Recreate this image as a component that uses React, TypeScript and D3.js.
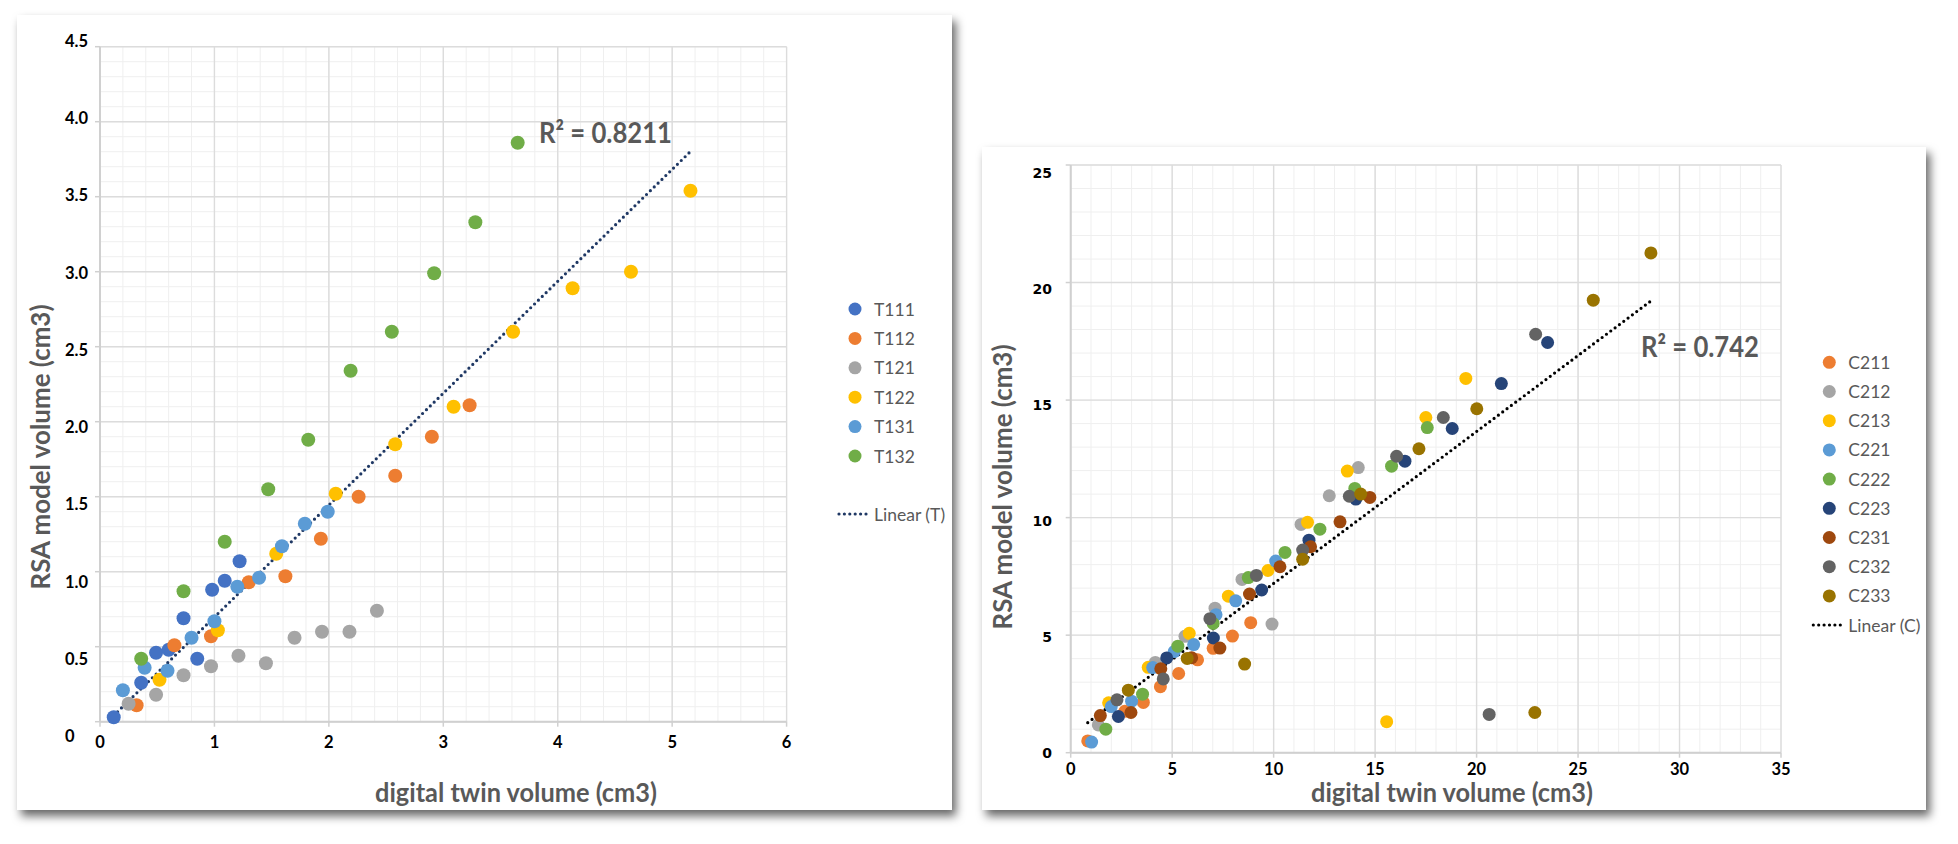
import React from "react";
import * as d3 from "d3";

type Pt = [number, number];

// ---------- Chart T data ----------
const T111: Pt[] = [[0.12,0.03],[0.36,0.26],[0.49,0.46],[0.6,0.48],[0.73,0.69],[0.85,0.42],[0.98,0.88],[1.09,0.94],[1.22,1.07]];
const T112: Pt[] = [[0.32,0.11],[0.65,0.51],[0.97,0.57],[1.3,0.93],[1.62,0.97],[1.93,1.22],[2.26,1.5],[2.58,1.64],[2.9,1.9],[3.23,2.11]];
const T121: Pt[] = [[0.25,0.12],[0.49,0.18],[0.73,0.31],[0.97,0.37],[1.21,0.44],[1.45,0.39],[1.7,0.56],[1.94,0.6],[2.18,0.6],[2.42,0.74]];
const T122: Pt[] = [[0.52,0.28],[1.03,0.61],[1.54,1.12],[2.06,1.52],[2.58,1.85],[3.09,2.1],[3.61,2.6],[4.13,2.89],[4.64,3.0],[5.16,3.54]];
const T131: Pt[] = [[0.2,0.21],[0.39,0.36],[0.59,0.34],[0.8,0.56],[1.0,0.67],[1.2,0.9],[1.39,0.96],[1.59,1.17],[1.79,1.32],[1.99,1.4]];
const T132: Pt[] = [[0.36,0.42],[0.73,0.87],[1.09,1.2],[1.47,1.55],[1.82,1.88],[2.19,2.34],[2.55,2.6],[2.92,2.99],[3.28,3.33],[3.65,3.86]];
const tNames = ["T111", "T112", "T121", "T122", "T131", "T132"];
const tColors = ["#4472C4", "#ED7D31", "#A5A5A5", "#FFC000", "#5B9BD5", "#70AD47"];
const tSeries = [T111, T112, T121, T122, T131, T132];
const tXTicks = [0, 1, 2, 3, 4, 5, 6];
const tYTicks = [0, 0.5, 1, 1.5, 2, 2.5, 3, 3.5, 4, 4.5];
const tYTickLabels = ["0", "0.5", "1.0", "1.5", "2.0", "2.5", "3.0", "3.5", "4.0", "4.5"];
const tR2 = "R² = 0.8211";
const tTrendName = "Linear (T)";

// ---------- Chart C data ----------
const C211: Pt[] = [[0.84,0.5],[2.67,1.76],[3.58,2.14],[4.42,2.81],[5.32,3.37],[6.25,3.95],[7.02,4.44],[7.97,4.96],[8.87,5.53]];
const C212: Pt[] = [[1.36,1.18],[4.17,3.84],[5.63,4.95],[7.11,6.15],[8.44,7.37],[9.92,5.47],[11.35,9.71],[12.74,10.93],[14.17,12.13]];
const C213: Pt[] = [[1.87,2.12],[3.82,3.63],[5.84,5.08],[7.77,6.66],[9.72,7.75],[11.67,9.8],[13.63,11.98],[15.57,1.32],[17.5,14.26],[19.47,15.92]];
const C221: Pt[] = [[1.03,0.45],[2.0,1.96],[3.0,2.19],[4.04,3.62],[5.1,4.3],[6.06,4.6],[7.16,5.87],[8.13,6.46],[10.1,8.15]];
const C222: Pt[] = [[1.73,1.0],[3.54,2.49],[5.28,4.53],[7.02,5.5],[8.75,7.45],[10.56,8.52],[12.28,9.51],[14.0,11.24],[15.81,12.19],[17.57,13.83]];
const C223: Pt[] = [[2.35,1.54],[4.73,4.03],[7.03,4.88],[9.41,6.92],[11.74,9.04],[14.05,10.79],[16.47,12.4],[18.8,13.79],[21.22,15.7],[23.5,17.45]];
const C231: Pt[] = [[1.46,1.58],[2.97,1.71],[4.44,3.57],[5.96,4.04],[7.35,4.45],[8.81,6.75],[10.31,7.91],[11.82,8.76],[13.27,9.82],[14.74,10.86]];
const C232: Pt[] = [[2.28,2.25],[4.56,3.14],[6.86,5.7],[9.15,7.54],[11.43,8.62],[13.73,10.91],[16.06,12.61],[18.36,14.26],[20.62,1.63],[22.91,17.8]];
const C233: Pt[] = [[2.84,2.66],[5.74,4.01],[8.57,3.77],[11.43,8.23],[14.29,11.0],[17.16,12.93],[20.01,14.63],[22.87,1.71],[25.75,19.25],[28.59,21.26]];
const cNames = ["C211", "C212", "C213", "C221", "C222", "C223", "C231", "C232", "C233"];
const cColors = ["#ED7D31", "#A5A5A5", "#FFC000", "#5B9BD5", "#70AD47", "#264478", "#9E480E", "#636363", "#997300"];
const cSeries = [C211, C212, C213, C221, C222, C223, C231, C232, C233];
const cXTicks = [0, 5, 10, 15, 20, 25, 30, 35];
const cYTicks = [0, 5, 10, 15, 20, 25];
const cYTickLabels = ["0", "5", "10", "15", "20", "25"];
const cR2 = "R² = 0.742";
const cTrendName = "Linear (C)";

const xTitle = "digital twin volume (cm3)";
const yTitle = "RSA model volume (cm3)";

function linReg(pts: Pt[]) {
  const mx = d3.mean(pts, (p) => p[0]) as number;
  const my = d3.mean(pts, (p) => p[1]) as number;
  let sxy = 0, sxx = 0;
  for (const p of pts) { sxy += (p[0] - mx) * (p[1] - my); sxx += (p[0] - mx) ** 2; }
  const slope = sxy / sxx;
  return { slope, intercept: my - slope * mx };
}

interface Cfg {
  id: string;
  panel: { x: number; y: number; w: number; h: number };
  plot: { l: number; r: number; t: number; b: number };
  xMax: number; yMax: number; xMinor: number; yMinor: number;
  xTicks: number[]; yTicks: number[]; yTickLabels: string[];
  yLabelRange: [number, number]; yLabelX: number; yLabelAnchor: string; yLabelFont: string; yLabelSize: number;
  xLabelY: number; xLabelSize: number;
  series: Pt[][]; names: string[]; colors: string[]; r: number;
  trendColor: string; trendName: string;
  r2: string; r2x: number; r2y: number; r2w: number;
  legX: number; legY: number; legStep: number; linearY: number;
  xTitleX: number; xTitleY: number; yTitleX: number; yTitleY: number;
}

const FONT = "Lato, 'Open Sans', sans-serif";
const DOT = { w: 3.2, dash: "0 5.4" };

function Chart({ c }: { c: Cfg }) {
  const x = d3.scaleLinear().domain([0, c.xMax]).range([c.plot.l, c.plot.r]);
  const y = d3.scaleLinear().domain([0, c.yMax]).range([c.plot.b, c.plot.t]);
  const yLab = d3.scaleLinear().domain([0, c.yMax]).range(c.yLabelRange);
  const minorX = d3.range(0, c.xMax + 1e-9, c.xMinor);
  const minorY = d3.range(0, c.yMax + 1e-9, c.yMinor);
  const all = c.series.flat();
  const reg = linReg(all);
  const [xmin, xmax] = d3.extent(all, (p) => p[0]) as [number, number];
  const line = d3.line<number>().x((v) => x(v)).y((v) => y(reg.slope * v + reg.intercept));
  return (
    <g>
      <rect x={c.panel.x} y={c.panel.y} width={c.panel.w} height={c.panel.h} fill="#fff" filter="url(#shadow)" />
      {minorX.map((v, i) => (
        <line key={"mx" + i} x1={x(v)} x2={x(v)} y1={c.plot.t} y2={c.plot.b} stroke="#efefef" strokeWidth={1} />
      ))}
      {minorY.map((v, i) => (
        <line key={"my" + i} x1={c.plot.l} x2={c.plot.r} y1={y(v)} y2={y(v)} stroke="#efefef" strokeWidth={1} />
      ))}
      {c.xTicks.map((v) => (
        <line key={"gx" + v} x1={x(v)} x2={x(v)} y1={c.plot.t} y2={c.plot.b} stroke="#dcdcdc" strokeWidth={1.4} />
      ))}
      {c.yTicks.map((v) => (
        <line key={"gy" + v} x1={c.plot.l} x2={c.plot.r} y1={y(v)} y2={y(v)} stroke="#dcdcdc" strokeWidth={1.4} />
      ))}
      <line x1={c.plot.l} x2={c.plot.r} y1={c.plot.b} y2={c.plot.b} stroke="#d0d0d0" strokeWidth={2} />
      <line x1={c.plot.l} x2={c.plot.l} y1={c.plot.t} y2={c.plot.b} stroke="#d0d0d0" strokeWidth={2} />
      {c.xTicks.map((v) => (
        <line key={"tx" + v} x1={x(v)} x2={x(v)} y1={c.plot.b} y2={c.plot.b + 5} stroke="#d0d0d0" strokeWidth={1.5} />
      ))}
      {c.yTicks.map((v) => (
        <line key={"ty" + v} x1={c.plot.l - 5} x2={c.plot.l} y1={y(v)} y2={y(v)} stroke="#d0d0d0" strokeWidth={1.5} />
      ))}
      {c.xTicks.map((v) => (
        <text key={"lx" + v} x={x(v)} y={c.xLabelY} textAnchor="middle" dominantBaseline="central"
          fontFamily={FONT} fontWeight="bold" fontSize={c.xLabelSize} fill="#000">{v}</text>
      ))}
      {c.yTicks.map((v, i) => (
        <text key={"ly" + v} x={c.yLabelX} y={yLab(v)} textAnchor={c.yLabelAnchor} dominantBaseline="central"
          fontFamily={c.yLabelFont} fontWeight="bold" fontSize={c.yLabelSize} fill="#000">{c.yTickLabels[i]}</text>
      ))}
      <path d={line([xmin, xmax]) || ""} fill="none" stroke={c.trendColor} strokeWidth={DOT.w}
        strokeDasharray={DOT.dash} strokeLinecap="round" />
      {c.series.map((s, si) => (
        <g key={"s" + si} fill={c.colors[si]}>
          {s.map((p, pi) => (
            <circle key={pi} cx={x(p[0])} cy={y(p[1])} r={c.r} />
          ))}
        </g>
      ))}
      <text x={c.r2x} y={c.r2y} dominantBaseline="central" fontFamily={FONT} fontWeight="bold" fontSize={29}
        fill="#595959" textLength={c.r2w} lengthAdjust="spacingAndGlyphs">{c.r2}</text>
      {c.names.map((n, i) => (
        <g key={"leg" + n}>
          <circle cx={c.legX} cy={c.legY + i * c.legStep} r={6.5} fill={c.colors[i]} />
          <text x={c.legX + 19} y={c.legY + i * c.legStep} dominantBaseline="central" fontFamily={FONT}
            fontSize={17.5} fill="#595959">{n}</text>
        </g>
      ))}
      <line x1={c.legX - 16} x2={c.legX + 14} y1={c.linearY} y2={c.linearY} stroke={c.trendColor}
        strokeWidth={DOT.w} strokeDasharray={DOT.dash} strokeLinecap="round" />
      <text x={c.legX + 19} y={c.linearY} dominantBaseline="central" fontFamily={FONT} fontSize={17.5}
        fill="#595959">{c.trendName}</text>
      <text x={c.xTitleX} y={c.xTitleY} textAnchor="middle" dominantBaseline="central" fontFamily={FONT}
        fontWeight="bold" fontSize={26} fill="#595959" textLength={282} lengthAdjust="spacingAndGlyphs">{xTitle}</text>
      <text transform={`translate(${c.yTitleX},${c.yTitleY}) rotate(-90)`} textAnchor="middle" dominantBaseline="central"
        fontFamily={FONT} fontWeight="bold" fontSize={26} fill="#595959" textLength={285}
        lengthAdjust="spacingAndGlyphs">{yTitle}</text>
    </g>
  );
}

const tCfg: Cfg = {
  id: "T",
  panel: { x: 17, y: 15, w: 935, h: 795 },
  plot: { l: 100, r: 786.6, t: 46.7, b: 721.7 },
  xMax: 6, yMax: 4.5, xMinor: 0.2, yMinor: 0.1,
  xTicks: tXTicks, yTicks: tYTicks, yTickLabels: tYTickLabels,
  yLabelRange: [736, 41], yLabelX: 65, yLabelAnchor: "start", yLabelFont: FONT, yLabelSize: 16.5,
  xLabelY: 742, xLabelSize: 16.5,
  series: tSeries, names: tNames, colors: tColors, r: 7,
  trendColor: "#1F3864", trendName: tTrendName,
  r2: tR2, r2x: 539, r2y: 131, r2w: 133,
  legX: 855, legY: 309, legStep: 29.4, linearY: 514,
  xTitleX: 516, xTitleY: 792, yTitleX: 40, yTitleY: 447,
};

const cCfg: Cfg = {
  id: "C",
  panel: { x: 982, y: 147, w: 944, h: 663 },
  plot: { l: 1070.7, r: 1781, t: 165, b: 752.7 },
  xMax: 35, yMax: 25, xMinor: 1, yMinor: 1,
  xTicks: cXTicks, yTicks: cYTicks, yTickLabels: cYTickLabels,
  yLabelRange: [753, 172.7], yLabelX: 1052, yLabelAnchor: "end", yLabelFont: "'DejaVu Sans', Verdana, sans-serif", yLabelSize: 14,
  xLabelY: 769, xLabelSize: 16.5,
  series: cSeries, names: cNames, colors: cColors, r: 6.5,
  trendColor: "#000000", trendName: cTrendName,
  r2: cR2, r2x: 1641, r2y: 345, r2w: 118,
  legX: 1829.3, legY: 362.3, legStep: 29.2, linearY: 625,
  xTitleX: 1452, xTitleY: 792, yTitleX: 1002, yTitleY: 487,
};

export default function App() {
  return (
    <svg width={1958} height={844} style={{ position: "absolute", left: 0, top: 0, background: "#fff" }}>
      <defs>
        <filter id="shadow" x="-5%" y="-5%" width="112%" height="115%">
          <feDropShadow dx={4} dy={6} stdDeviation={5} floodColor="#000" floodOpacity={0.6} />
        </filter>
      </defs>
      <Chart c={tCfg} />
      <Chart c={cCfg} />
    </svg>
  );
}
